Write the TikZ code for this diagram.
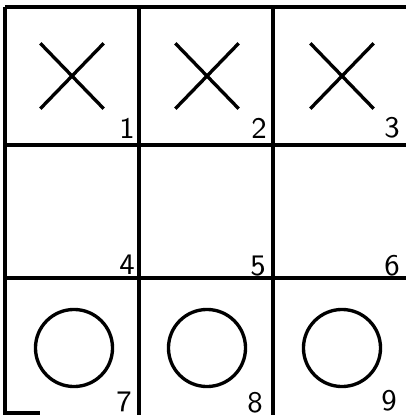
\documentclass[tikz,border=0pt]{standalone}
\usetikzlibrary{shapes.misc}
\tikzset{
  gridline/.style={line width=1.15pt},
  xmark/.style={cross out,draw,line width=0.95pt,minimum width=0.6cm,minimum height=0.62cm,inner sep=0pt},
  omark/.style={circle,draw,line width=0.95pt,minimum size=0.77cm,inner sep=0pt},
  num/.style={font=\sffamily\fontsize{8.5}{10}\selectfont,inner sep=0pt},
}
\begin{document}
\begin{tikzpicture}[x=0.01cm,y=-0.01cm]
\useasboundingbox (0,0) rectangle (406,415);
% grid lines (right side left open)
\draw[gridline] (5,7) -- (406,7);
\foreach \y in {145,278} {
  \draw[gridline] (5,\y) -- (406,\y);
}
\foreach \x in {5,139,273} {
  \draw[gridline] (\x,7) -- (\x,415);
}
\draw[gridline] (5,413) -- (40,413);
% crosses in the top row
\foreach \i/\x in {1/72,2/207,3/342} {
  \node[xmark] (x\i) at (\x,76) {};
}
% rings in the bottom row
\foreach \i/\x in {7/74,8/207,9/342} {
  \node[omark] (o\i) at (\x,348) {};
}
% cell numbers
\foreach \i/\x/\y in {1/127/128,2/259/128,3/392/128,4/127/265,5/258/266,6/392/266,7/124/402,8/255/403,9/389/401} {
  \node[num] (n\i) at (\x,\y) {\i};
}
\end{tikzpicture}
\end{document}
